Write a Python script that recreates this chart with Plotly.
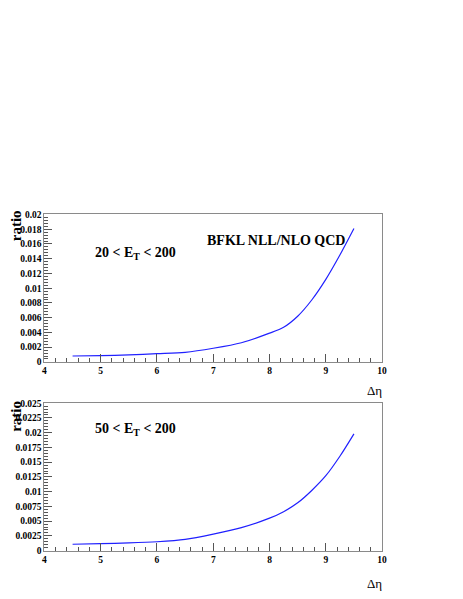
"""
BFKL NLL / NLO QCD ratio vs delta eta, two E_T ranges
"""
import plotly.graph_objects as go

# Data ------------------------------------------------------------------------
deta = [4.5, 5.0, 5.5, 6.0, 6.5, 7.0, 7.5, 8.0, 8.25, 8.5, 8.75, 9.0, 9.25, 9.5]
ratio_et20 = [0.0008, 0.00086, 0.00095, 0.00112, 0.0013, 0.00185, 0.0026,
              0.0039, 0.0047, 0.0062, 0.0084, 0.0112, 0.0145, 0.0181]
ratio_et50 = [0.00108, 0.00118, 0.0013, 0.0015, 0.0019, 0.0028, 0.0039,
              0.0055, 0.0066, 0.0081, 0.0102, 0.0127, 0.0160, 0.0198]

x_ticks = [4, 5, 6, 7, 8, 9, 10]
y_ticks_top = [0, 0.002, 0.004, 0.006, 0.008, 0.01, 0.012, 0.014, 0.016, 0.018, 0.02]
y_labels_top = ["0", "0.002", "0.004", "0.006", "0.008", "0.01", "0.012",
                "0.014", "0.016", "0.018", "0.02"]
y_ticks_bot = [0, 0.0025, 0.005, 0.0075, 0.01, 0.0125, 0.015, 0.0175, 0.02, 0.0225, 0.025]
y_labels_bot = ["0", "0.0025", "0.005", "0.0075", "0.01", "0.0125", "0.015",
                "0.0175", "0.02", "0.0225", "0.025"]

# Style -----------------------------------------------------------------------
SERIF = "Liberation Serif"
PAGE_W, PAGE_H = 463, 599
OFF = 8  # default body margin of the html page
W, H = PAGE_W - 2 * OFF, PAGE_H - 2 * OFF
frame_col = "#8a8a8a"
tick_font = dict(family=SERIF, size=9.5, color="black", weight="bold")


# page pixel -> paper coordinates
def px_x(p):
    return (p - OFF) / W


def px_y(p):
    return 1 - (p - OFF) / H


def x_axis(domain, anchor):
    return dict(
        domain=domain, anchor=anchor, range=[4, 10],
        tickvals=x_ticks, ticktext=[str(v) for v in x_ticks],
        ticks="inside", ticklen=8, tickcolor="#555", tickwidth=1,
        minor=dict(dtick=0.2, ticks="inside", ticklen=4, tickcolor="#555"),
        showline=True, linecolor=frame_col, linewidth=1, mirror=True,
        showgrid=False, zeroline=False, tickfont=tick_font,
    )


def y_axis(domain, anchor, rng, vals, labels, minor):
    return dict(
        domain=domain, anchor=anchor, range=rng,
        tickvals=vals, ticktext=labels,
        ticks="inside", ticklen=8, tickcolor="#555", tickwidth=1,
        minor=dict(dtick=minor, ticks="inside", ticklen=4, tickcolor="#555"),
        showline=True, linecolor=frame_col, linewidth=1, mirror=True,
        showgrid=False, zeroline=False, tickfont=tick_font,
    )


# Figure ----------------------------------------------------------------------
fig = go.Figure()
fig.add_trace(go.Scatter(x=deta, y=ratio_et20, mode="lines", xaxis="x", yaxis="y",
                         line=dict(color="#2020ff", width=1.2, shape="spline", smoothing=0.8)))
fig.add_trace(go.Scatter(x=deta, y=ratio_et50, mode="lines", xaxis="x2", yaxis="y2",
                         line=dict(color="#2020ff", width=1.2, shape="spline", smoothing=0.8)))

xdom = [px_x(43), px_x(386)]
fig.update_layout(
    width=W, height=H, showlegend=False,
    margin=dict(l=0, r=0, t=0, b=0),
    paper_bgcolor="white", plot_bgcolor="white",
    xaxis=x_axis(xdom, "y"),
    yaxis=y_axis([px_y(363), px_y(213)], "x", [0, 0.02], y_ticks_top, y_labels_top, 0.0004),
    xaxis2=x_axis(xdom, "y2"),
    yaxis2=y_axis([px_y(555), px_y(405)], "x2", [0, 0.025], y_ticks_bot, y_labels_bot, 0.0005),
)

label_font = dict(family=SERIF, size=14, color="black", weight="bold")
ratio_font = dict(family=SERIF, size=15, color="black", weight="bold")
eta_font = dict(family=SERIF, size=13, color="black")
notes = [
    ("20 &lt; E<sub>T</sub> &lt; 200", 136, 253, label_font, 0),
    ("BFKL NLL/NLO QCD", 278, 239, label_font, 0),
    ("50 &lt; E<sub>T</sub> &lt; 200", 136, 432, label_font, 0),
    ("ratio", 14, 224, ratio_font, -90),
    ("ratio", 14, 418, ratio_font, -90),
    ("Δη", 378, 392, eta_font, 0),
    ("Δη", 378, 588, eta_font, 0),
]
for text, x, y, font, ang in notes:
    fig.add_annotation(text=text, x=px_x(x), y=px_y(y), xref="paper", yref="paper",
                       showarrow=False, font=font, textangle=ang,
                       xanchor="center", yanchor="middle")

fig.write_html("out.html")
